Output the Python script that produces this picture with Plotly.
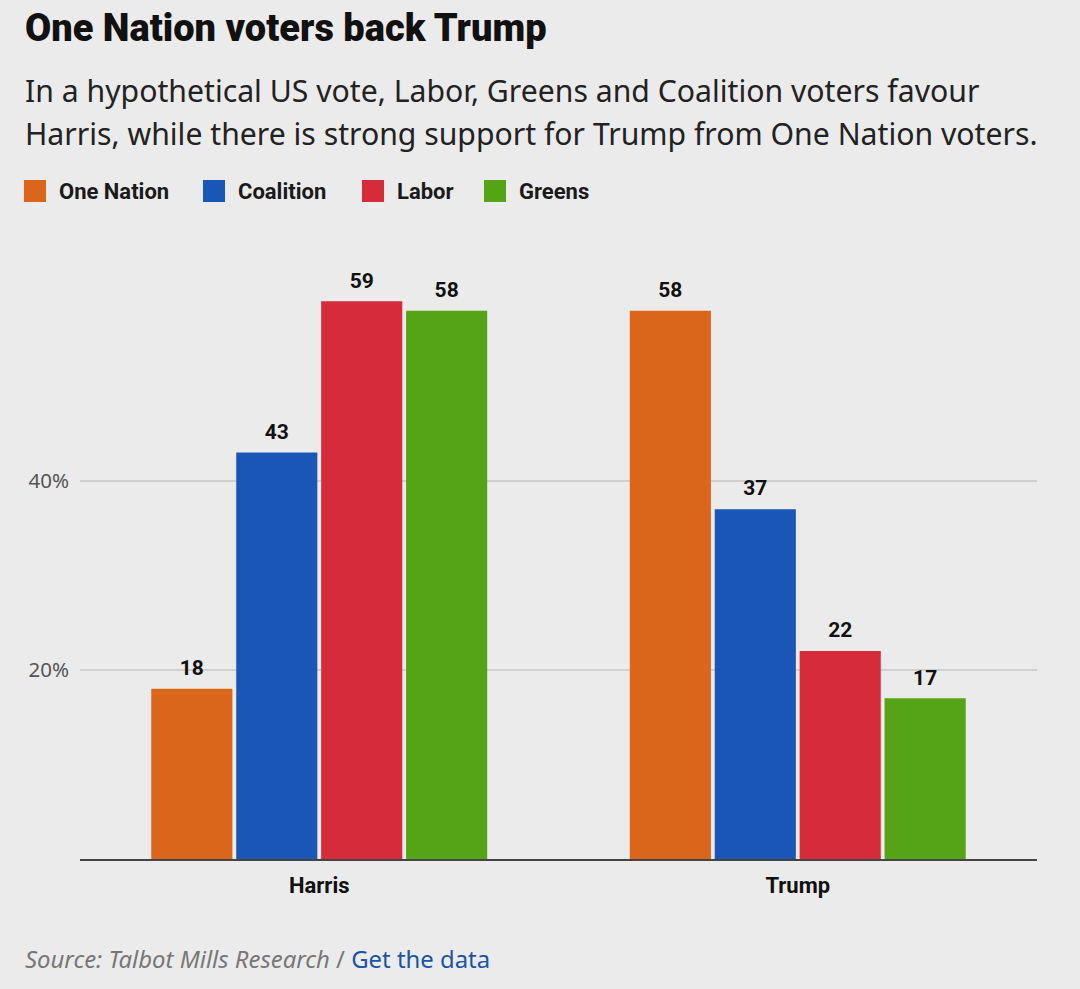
import plotly.graph_objects as go

categories = ["Harris", "Trump"]
series_names = ["One Nation", "Coalition", "Labor", "Greens"]
one_nation = [18, 58]
coalition = [43, 37]
labor = [59, 22]
greens = [58, 17]
tick_values = [20, 40]
tick_labels = ["20%", "40%"]
colors = ["#d9661a", "#1a56b5", "#d62b3b", "#55a316"]

series_values = [one_nation, coalition, labor, greens]

BG = "#ebebeb"
GAP = 0.29

fig = go.Figure()
for name, vals, col in zip(series_names, series_values, colors):
    fig.add_trace(go.Bar(
        x=categories, y=vals, name=name,
        marker=dict(color=col, line=dict(width=0)),
        showlegend=False, hoverinfo="x+y+name",
    ))
# value labels, grouped like the bars
for name, vals in zip(series_names, series_values):
    fig.add_trace(go.Scatter(
        x=categories, y=vals, mode="markers+text", name=name,
        text=[str(v) for v in vals], textposition="top center",
        marker=dict(size=12, opacity=0),
        textfont=dict(family="Roboto", size=21, color="#111111", weight="bold"),
        showlegend=False, hoverinfo="skip", cliponaxis=False,
    ))

fig.update_layout(
    width=1080, height=989,
    paper_bgcolor=BG, plot_bgcolor=BG,
    barmode="group", bargap=GAP, bargroupgap=0.045,
    scattermode="group", scattergap=GAP,
    margin=dict(l=80, r=43, t=254, b=130),
    font=dict(family="Roboto", color="#222"),
    showlegend=False,
    xaxis=dict(showgrid=False, showline=True, linecolor="#444", linewidth=2,
               ticks="", ticklabelstandoff=6,
               tickfont=dict(family="Roboto", size=22, color="#111", weight="bold")),
    yaxis=dict(range=[0, 64], tickvals=tick_values, ticktext=tick_labels,
               showgrid=True, gridcolor="#d0d0d0", gridwidth=1.5,
               zeroline=False, showline=False, ticks="", ticklabelstandoff=10,
               tickfont=dict(family="Noto Sans", size=20.5, color="#555")),
)

# Title and subtitle (paper px: plot top = 254)
fig.add_annotation(text="One Nation voters back Trump", xref="paper", yref="paper",
                   x=0, y=1.0, xanchor="left", yanchor="middle", showarrow=False,
                   xshift=-57, yshift=254 - 28,
                   font=dict(family="Roboto", size=38, color="#111", weight=900))
sub_lines = ["In a hypothetical US vote, Labor, Greens and Coalition voters favour",
             "Harris, while there is strong support for Trump from One Nation voters."]
for line, yc in zip(sub_lines, [90, 133]):
    fig.add_annotation(text=line, xref="paper", yref="paper", x=0, y=1.0,
                       xanchor="left", yanchor="middle", align="left", showarrow=False,
                       xshift=-57, yshift=254 - yc,
                       font=dict(family="Noto Sans", size=30.2, color="#222"))

# custom legend
legend_x = [24, 203, 362, 484]
for name, col, lx in zip(series_names, colors, legend_x):
    fig.add_shape(type="rect", xref="paper", yref="paper",
                  x0=(lx - 80) / 957, x1=(lx + 22 - 80) / 957,
                  y0=1 + (254 - 202) / 605, y1=1 + (254 - 180) / 605,
                  fillcolor=col, line=dict(width=0))
    fig.add_annotation(text=name, xref="paper", yref="paper",
                       x=(lx + 33 - 80) / 957, y=1 + (254 - 191) / 605,
                       xanchor="left", yanchor="middle", showarrow=False,
                       font=dict(family="Roboto", size=22, color="#1a1a1a", weight="bold"))

fig.add_annotation(text="<i>Source: Talbot Mills Research</i> / <span style='color:#1a55a5'>Get the data</span>",
                   xref="paper", yref="paper", x=0, y=0, xanchor="left", yanchor="middle",
                   showarrow=False, xshift=-57, yshift=-(958 - 859),
                   font=dict(family="Noto Sans", size=23.9, color="#777"))

fig.write_html("out.html", config={"displayModeBar": False},
               post_script="document.body.style.margin='0';")
